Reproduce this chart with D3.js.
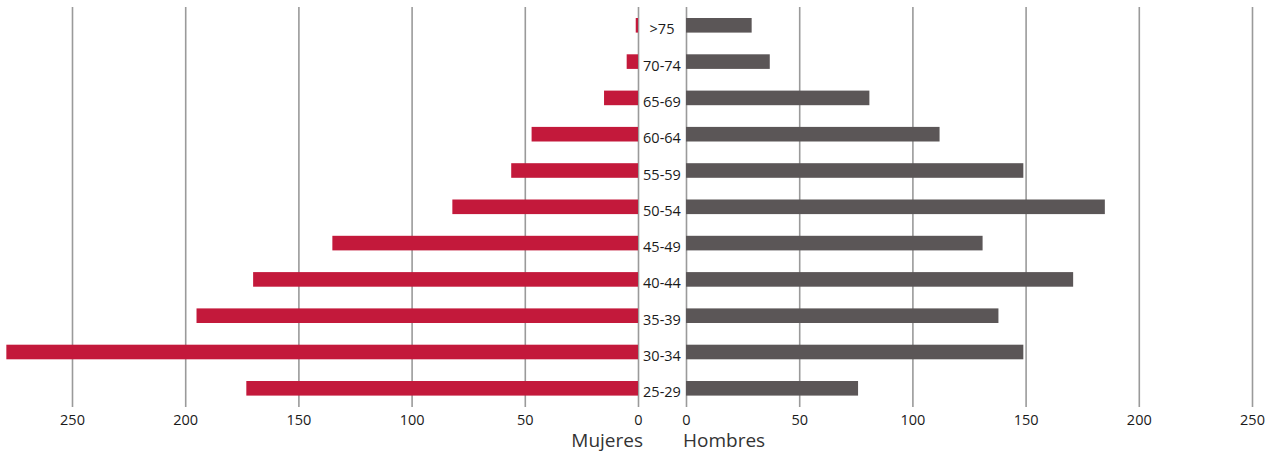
<!DOCTYPE html>
<html>
<head>
<meta charset="utf-8">
<script src="https://cdnjs.cloudflare.com/ajax/libs/d3/7.8.5/d3.min.js"></script>
<style>
body { margin: 0; background: #fff; }
svg text { font-family: "Open Sans", "Noto Sans", sans-serif; fill: #1a1a1a; }
.grid line { stroke: #9a9a9a; stroke-width: 1.6; }
.grid path { display: none; }
.grid text { font-size: 14.5px; }
</style>
</head>
<body>
<div id="chart"></div>
<script>
var age_groups = [">75", "70-74", "65-69", "60-64", "55-59", "50-54", "45-49", "40-44", "35-39", "30-34", "25-29"]
var mujeres = [1, 5, 15, 47, 56, 82, 135, 170, 195, 279, 173]
var hombres = [29, 37, 81, 112, 149, 185, 131, 171, 138, 149, 76]
var tick_values = [0, 50, 100, 150, 200, 250]

var width = 1265
var height = 453

var svg = d3.select("#chart")
			.append("svg")
			.attr("width", width)
			.attr("height", height)

// two mirrored scales, one per sex
var xLeft = d3.scaleLinear().domain([0, 250]).range([638, 72])
var xRight = d3.scaleLinear().domain([0, 250]).range([686, 1252])
var yScale = d3.scalePoint().domain(age_groups).range([25.3, 388.3])
var barH = 14.6
var gridTop = 7, gridBottom = 407

svg.append("g")
	.attr("class", "grid")
	.attr("transform", "translate(0," + gridBottom + ")")
	.call(d3.axisBottom(xLeft).tickValues(tick_values).tickSize(-(gridBottom - gridTop)).tickPadding(8))

svg.append("g")
	.attr("class", "grid")
	.attr("transform", "translate(0," + gridBottom + ")")
	.call(d3.axisBottom(xRight).tickValues(tick_values).tickSize(-(gridBottom - gridTop)).tickPadding(8))

svg.selectAll(".bar-m")
	.data(age_groups)
	.enter()
	.append("rect")
	.attr("class", "bar-m")
	.attr("x", (d, i) => xLeft(mujeres[i]))
	.attr("y", d => yScale(d) - barH / 2)
	.attr("width", (d, i) => xLeft(0) - xLeft(mujeres[i]))
	.attr("height", barH)
	.attr("fill", "#c3193b")

svg.selectAll(".bar-h")
	.data(age_groups)
	.enter()
	.append("rect")
	.attr("class", "bar-h")
	.attr("x", xRight(0))
	.attr("y", d => yScale(d) - barH / 2)
	.attr("width", (d, i) => xRight(hombres[i]) - xRight(0))
	.attr("height", barH)
	.attr("fill", "#5b5657")

svg.selectAll(".age-label")
	.data(age_groups)
	.enter()
	.append("text")
	.attr("class", "age-label")
	.attr("x", (xLeft(0) + xRight(0)) / 2)
	.attr("y", d => yScale(d) + 9)
	.attr("text-anchor", "middle")
	.style("font-size", "14.5px")
	.text(d => d)

svg.append("text")
	.attr("x", xLeft(0) + 5)
	.attr("y", 447)
	.attr("text-anchor", "end")
	.style("font-size", "19px")
	.style("fill", "#333")
	.text("Mujeres")

svg.append("text")
	.attr("x", xRight(0) - 3)
	.attr("y", 447)
	.attr("text-anchor", "start")
	.style("font-size", "19px")
	.style("fill", "#333")
	.text("Hombres")
</script>
</body>
</html>
